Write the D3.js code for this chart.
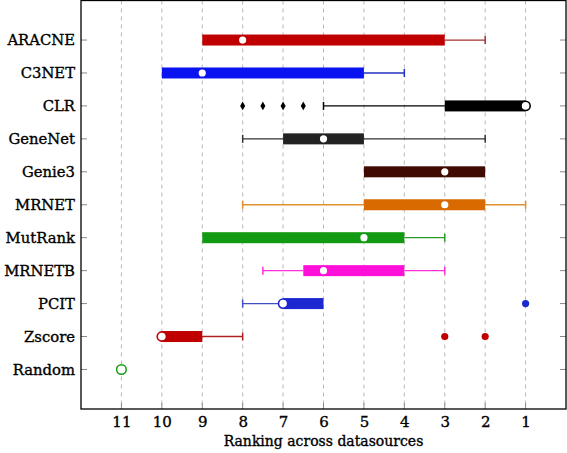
<!DOCTYPE html>
<html><head><meta charset="utf-8">
<script src="https://cdn.jsdelivr.net/npm/d3@7"></script>
<style>body{margin:0;background:#fff}svg{display:block}text{font-family:"DejaVu Serif",serif;fill:#000;stroke:#000;stroke-width:0.35px}</style>
</head><body>
<svg id="c" width="567" height="453"></svg>
<script>
const categories = ["ARACNE","C3NET","CLR","GeneNet","Genie3","MRNET","MutRank","MRNETB","PCIT","Zscore","Random"];
const colors     = ["#c00000","#0a14f0","#000000","#222222","#3f0a00","#d86a00","#129a12","#ff10d8","#1c28d0","#c00000","#129a12"];
const whiskerColors = ["#a83030","#2030c0","#000000","#333333","#3f0a00","#e0902c","#2a9a2a","#ff30d8","#4050c0","#b02020","#129a12"];
const boxLow     = [9,10,3,7,5,5,9,6.5,7,10,null];
const boxHigh    = [3,5,1,5,2,2,4,4,6,9,null];
const medians    = [8,9,1,6,3,3,5,6,7,10,11];
const whiskLow   = [null,null,6,8,null,8,null,7.5,8,8,null];
const whiskHigh  = [2,4,null,2,null,1,3,3,null,null,null];
const outliers   = [[],[],[8,7.5,7,6.5],[],[],[],[],[],[1],[3,2],[]];
const xTicks     = [11,10,9,8,7,6,5,4,3,2,1];
const xLabel     = "Ranking across datasources";

const svg = d3.select("#c");
const L=81, R=566, T=0.5, B=409;
const x = d3.scaleLinear().domain([12,0]).range([L,R]);
const y = d3.scaleLinear().domain([-0.2,12.2]).range([T,B]);
const yi = i => y(i+1);

// grid
svg.append("g").selectAll("line").data(xTicks).join("line")
  .attr("x1",d=>x(d)).attr("x2",d=>x(d)).attr("y1",T).attr("y2",B)
  .attr("stroke","#b8b8b8").attr("stroke-width",1).attr("stroke-dasharray","4,4");

// x tick marks (inward)
svg.append("g").selectAll("line").data(xTicks).join("line")
  .attr("x1",d=>x(d)).attr("x2",d=>x(d)).attr("y1",B-6).attr("y2",B)
  .attr("stroke","#888").attr("stroke-width",1);

// x axis
const xa = svg.append("g").attr("transform",`translate(0,${B})`)
  .call(d3.axisBottom(x).tickValues(xTicks).tickSize(0).tickPadding(7));
xa.select(".domain").remove();
xa.selectAll("text").attr("font-size",15).attr("font-family","DejaVu Serif");

svg.append("text").attr("x",(L+R)/2).attr("y",446).attr("text-anchor","middle")
  .attr("font-size",14).text(xLabel);

// y ticks/labels
const yg = svg.append("g");
categories.forEach((c,i)=>{
  yg.append("line").attr("x1",L).attr("x2",L+6).attr("y1",yi(i)).attr("y2",yi(i)).attr("stroke","#888");
  yg.append("line").attr("x1",R-6).attr("x2",R).attr("y1",yi(i)).attr("y2",yi(i)).attr("stroke","#888");
  yg.append("text").attr("x",75).attr("y",yi(i)).attr("dy","0.35em").attr("text-anchor","end")
    .attr("font-size",14.8).text(c);
});

// boxes
const g = svg.append("g");
categories.forEach((c,i)=>{
  const cy = yi(i), col = colors[i], wc = whiskerColors[i];
  if (boxLow[i]!=null) {
    if (whiskLow[i]!=null) {
      g.append("line").attr("x1",x(whiskLow[i])).attr("x2",x(boxLow[i])).attr("y1",cy).attr("y2",cy).attr("stroke",wc).attr("stroke-width",1.3);
      g.append("line").attr("x1",x(whiskLow[i])).attr("x2",x(whiskLow[i])).attr("y1",cy-4).attr("y2",cy+4).attr("stroke",wc).attr("stroke-width",1.5);
    }
    if (whiskHigh[i]!=null) {
      g.append("line").attr("x1",x(boxHigh[i])).attr("x2",x(whiskHigh[i])).attr("y1",cy).attr("y2",cy).attr("stroke",wc).attr("stroke-width",1.3);
      g.append("line").attr("x1",x(whiskHigh[i])).attr("x2",x(whiskHigh[i])).attr("y1",cy-4).attr("y2",cy+4).attr("stroke",wc).attr("stroke-width",1.5);
    }
    g.append("rect").attr("x",x(boxLow[i])).attr("width",x(boxHigh[i])-x(boxLow[i]))
      .attr("y",cy-5.5).attr("height",11).attr("fill",col);
  }
  // outliers
  outliers[i].forEach(v=>{
    if (i===2) {
      g.append("path").attr("d",d3.symbol(d3.symbolDiamond,22)()).attr("transform",`translate(${x(v)},${cy})`).attr("fill",col);
    } else {
      g.append("circle").attr("cx",x(v)).attr("cy",cy).attr("r",3.6).attr("fill",col);
    }
  });
  // median
  const onEdge = boxLow[i]==null || medians[i]===boxLow[i] || medians[i]===boxHigh[i];
  if (boxLow[i]==null) {
    g.append("circle").attr("cx",x(medians[i])).attr("cy",cy).attr("r",4.8).attr("fill","#fff").attr("stroke",col).attr("stroke-width",1.5);
  } else if (onEdge) {
    g.append("circle").attr("cx",x(medians[i])).attr("cy",cy).attr("r",4.6).attr("fill","#fff").attr("stroke",col).attr("stroke-width",1.6);
  } else {
    g.append("circle").attr("cx",x(medians[i])).attr("cy",cy).attr("r",3.6).attr("fill","#fff");
  }
});

// frame
svg.append("rect").attr("x",L).attr("y",T).attr("width",R-L).attr("height",B-T)
  .attr("fill","none").attr("stroke","#000").attr("stroke-width",1.3);
</script>
</body></html>
